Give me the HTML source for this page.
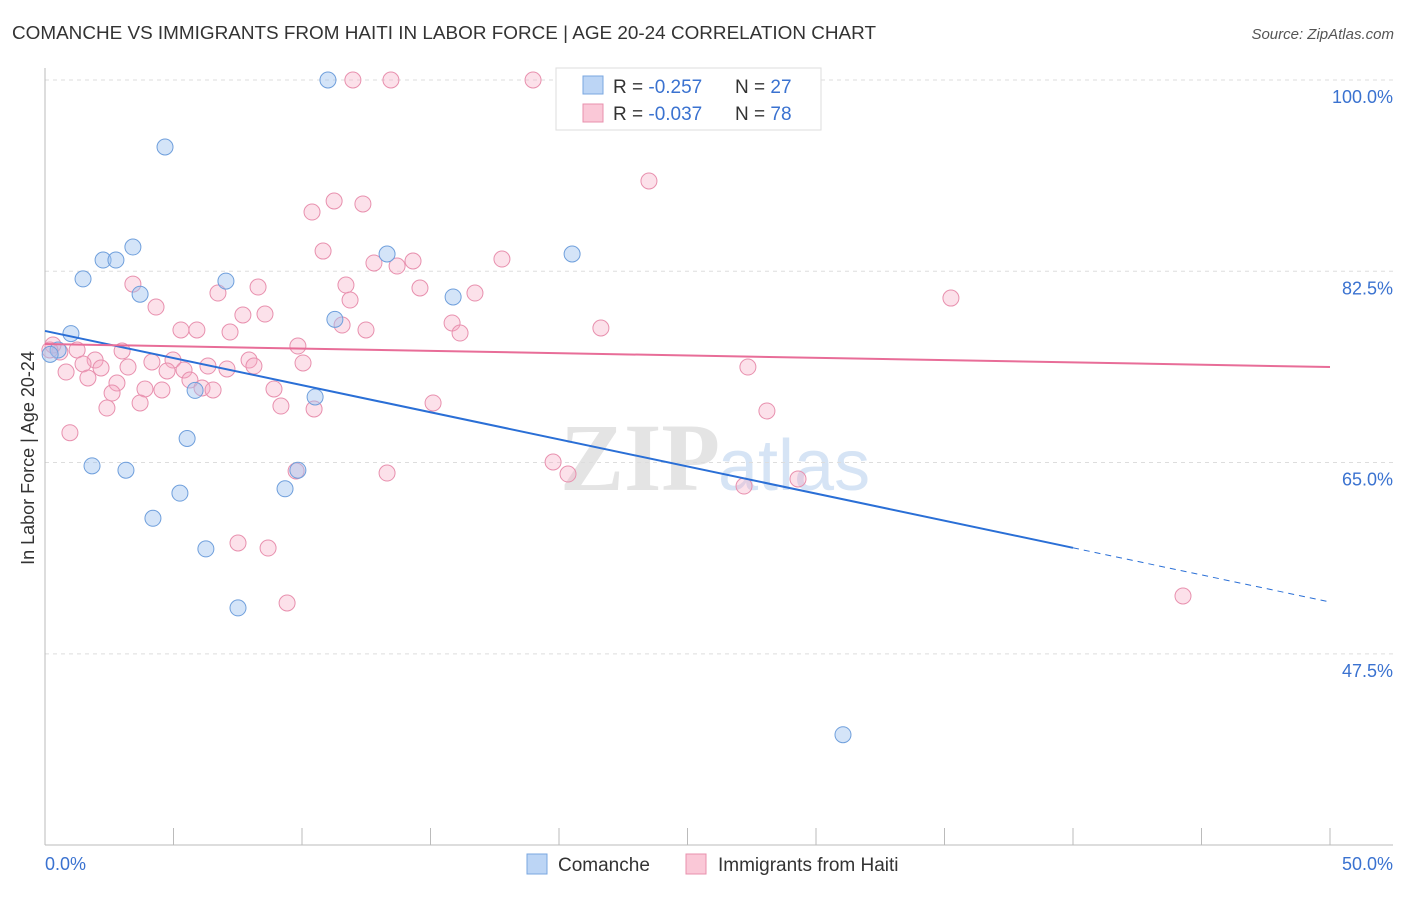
<!DOCTYPE html>
<html><head><meta charset="utf-8"><style>
body{margin:0;background:#fff;font-family:"Liberation Sans",sans-serif}
</style></head><body>
<svg id="c" width="1406" height="892" xmlns="http://www.w3.org/2000/svg" font-family="Liberation Sans, sans-serif">
<text x="12" y="39" font-size="18" fill="#333" textLength="864" lengthAdjust="spacingAndGlyphs">COMANCHE VS IMMIGRANTS FROM HAITI IN LABOR FORCE | AGE 20-24 CORRELATION CHART</text>
<text x="1394" y="39" font-size="15" fill="#555" text-anchor="end" font-style="italic">Source: ZipAtlas.com</text>
<text x="720" y="490" font-size="96" fill="#e4e4e4" text-anchor="end" font-family="Liberation Serif, serif" font-weight="bold">ZIP</text>
<text x="718" y="490" font-size="72" fill="#d6e4f5">atlas</text>
<g id="grid"></g>
<g id="axes"></g>
<g id="pts"></g>
<g id="lines"></g>
<text transform="translate(34,458) rotate(-90)" font-size="18" fill="#333" text-anchor="middle">In Labor Force | Age 20-24</text>
<text x="45" y="870" font-size="18" fill="#3a72d0">0.0%</text>
<text x="1393" y="870" font-size="18" fill="#3a72d0" text-anchor="end">50.0%</text>
<g>
<rect x="556" y="68" width="265" height="62" fill="#fff" stroke="#ddd"/>
<rect x="583" y="76" width="20" height="18" fill="#bcd5f5" stroke="#7aa7e0"/>
<rect x="583" y="104" width="20" height="18" fill="#fac8d7" stroke="#e890ae"/>
<text x="613" y="93" font-size="19" fill="#333">R = <tspan fill="#3a72d0">-0.257</tspan><tspan x="735">N = </tspan><tspan fill="#3a72d0">27</tspan></text>
<text x="613" y="120" font-size="19" fill="#333">R = <tspan fill="#3a72d0">-0.037</tspan><tspan x="735">N = </tspan><tspan fill="#3a72d0">78</tspan></text>
</g>
<g>
<rect x="527" y="854" width="20" height="20" fill="#bcd5f5" stroke="#7aa7e0"/>
<text x="558" y="871" font-size="19" fill="#333">Comanche</text>
<rect x="686" y="854" width="20" height="20" fill="#fac8d7" stroke="#e890ae"/>
<text x="718" y="871" font-size="19" fill="#333">Immigrants from Haiti</text>
</g>
</svg>
<script>
const yTicks=[100,82.5,65,47.5];
const yTickLabels=["100.0%","82.5%","65.0%","47.5%"];
const blueX=[11.01,4.67,3.42,2.26,2.76,1.48,3.70,7.04,13.31,20.51,15.88,11.28,1.01,0.51,5.84,10.51,5.53,1.83,3.15,9.84,9.34,5.25,4.20,6.26,7.51,31.05,0.2];
const blueY=[100,93.87,84.72,83.53,83.53,81.8,80.4,81.6,84.08,84.08,80.15,78.1,76.8,75.3,71.6,71.0,67.2,64.7,64.3,64.3,62.6,62.2,59.9,57.1,51.7,40.1,74.9];
const pinkX=[11.98,13.46,18.99,23.50,10.39,11.25,12.37,10.82,12.80,13.70,14.32,17.78,3.42,8.29,6.73,11.71,14.59,16.73,11.87,4.32,35.25,7.70,8.56,5.29,5.91,7.20,11.56,12.49,15.84,16.15,21.63,9.84,1.25,3.00,0.58,0.31,1.95,4.16,4.98,7.94,10.04,1.48,2.18,3.23,6.34,8.13,0.82,4.75,5.41,7.08,1.67,5.64,2.80,3.89,4.55,6.11,6.54,8.91,2.61,3.70,2.41,9.18,10.47,15.10,27.35,28.09,0.97,19.77,20.35,9.77,13.31,27.20,29.30,7.51,8.68,9.42,44.28,0.19];
const pinkY=[100,100,100,90.76,87.92,88.93,88.66,84.35,83.26,82.98,83.44,83.62,81.33,81.06,80.51,81.24,80.97,80.51,79.87,79.23,80.05,78.50,78.59,77.13,77.13,76.94,77.58,77.13,77.77,76.85,77.31,75.66,75.30,75.21,75.11,75.75,74.38,74.20,74.38,74.38,74.11,74.02,73.65,73.74,73.83,73.83,73.28,73.38,73.47,73.56,72.74,72.55,72.28,71.73,71.64,71.82,71.64,71.73,71.36,70.45,69.99,70.17,69.90,70.45,73.74,69.72,67.73,65.05,63.95,64.23,64.04,62.85,63.50,57.64,57.18,52.15,52.79,75.30];
const blueTrend=[77.04,52.24];
const pinkTrend=[75.85,73.74];
const NS="http://www.w3.org/2000/svg";
const X=v=>45+v*25.7;
const Y=v=>80+(100-v)*10.93;
function mk(tag,attrs,parent){const e=document.createElementNS(NS,tag);for(const k in attrs)e.setAttribute(k,attrs[k]);parent.appendChild(e);return e;}
const grid=document.getElementById('grid'),axes=document.getElementById('axes'),pts=document.getElementById('pts'),lines=document.getElementById('lines');
yTicks.forEach((t,i)=>{
 const l=mk('line',{x1:45,x2:1393,y1:Y(t),y2:Y(t),stroke:'#ddd','stroke-dasharray':'4,4'},grid);
 
 
 const tx=mk('text',{x:1393,y:Y(t)+23,'font-size':18,fill:'#3a72d0','text-anchor':'end'},grid);
 tx.textContent=yTickLabels[i];
 
 
});
mk('line',{x1:45,x2:45,y1:68,y2:845,stroke:'#bbb'},axes);
mk('line',{x1:45,x2:1393,y1:845,y2:845,stroke:'#bbb'},axes);
for(let i=0;i<=10;i++){const t=mk('line',{x1:X(i*5),x2:X(i*5),y1:828,y2:845,stroke:'#bbb'},axes);
 
 }
pinkX.forEach((x,i)=>{const c=mk('circle',{cx:X(x),cy:Y(pinkY[i]),r:8,fill:'rgba(245,170,195,0.35)',stroke:'#e890ae','stroke-width':1},pts);
 
 });
blueX.forEach((x,i)=>{const c=mk('circle',{cx:X(x),cy:Y(blueY[i]),r:8,fill:'rgba(160,195,240,0.45)',stroke:'#6f9fdc','stroke-width':1},pts);
 
 });
const by=x=>blueTrend[0]+(blueTrend[1]-blueTrend[0])*x/50;
const l1=mk('line',{x1:X(0),y1:Y(by(0)),x2:X(40),y2:Y(by(40)),stroke:'#2a6fd6','stroke-width':2},lines);


const l2=mk('line',{x1:X(40),y1:Y(by(40)),x2:X(50),y2:Y(by(50)),stroke:'#2a6fd6','stroke-width':1,'stroke-dasharray':'6,5'},lines);


const l3=mk('line',{x1:X(0),y1:Y(pinkTrend[0]),x2:X(50),y2:Y(pinkTrend[1]),stroke:'#e86d98','stroke-width':2},lines);


</script>
</body></html>
